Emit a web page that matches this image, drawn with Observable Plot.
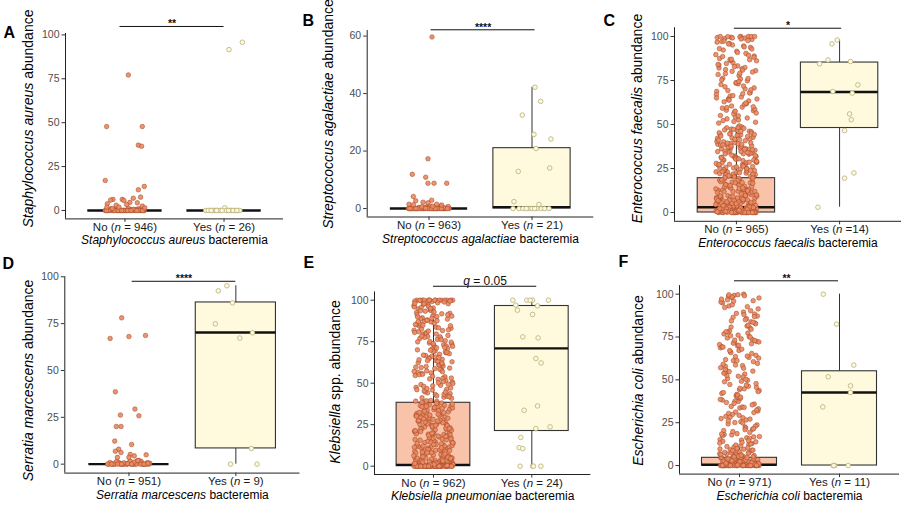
<!DOCTYPE html>
<html><head><meta charset="utf-8">
<script src="https://cdn.jsdelivr.net/npm/d3@7"></script>
<script src="https://cdn.jsdelivr.net/npm/@observablehq/plot@0.6"></script>
<style>
body{margin:0;background:#fff;}
#fig{position:relative;width:902px;height:506px;overflow:hidden;background:#fff;}
#fig svg{position:absolute;}
</style></head><body><div id="fig"></div>
<script>
// ---------------- DATA ----------------
const letters = ["A","B","C","D","E","F"];
const xTitles = ["_Staphylococcus aureus_ bacteremia","_Streptococcus agalactiae_ bacteremia","_Enterococcus faecalis_ bacteremia","_Serratia marcescens_ bacteremia","_Klebsiella pneumoniae_ bacteremia","_Escherichia coli_ bacteremia"];
const yTitles = ["_Staphylococcus aureus_ abundance","_Streptococcus agalactiae_ abundance","_Enterococcus faecalis_ abundance","_Serratia marcescens_ abundance","_Klebsiella_ spp. abundance","_Escherichia coli_ abundance"];
const noLabels = ["No (_n_ = 946)","No (_n_ = 963)","No (_n_ = 965)","No (_n_ = 951)","No (_n_ = 962)","No (_n_ = 971)"];
const yesLabels = ["Yes (_n_ = 26)","Yes (_n_ = 21)","Yes (_n_ =14)","Yes (_n_ = 9)","Yes (_n_ = 24)","Yes (_n_ = 11)"];
const sigLabels = ["**","****","*","****","_q_ = 0.05","**"];
const sigValues = [104.8, 62.2, 104.7, 97.6, 108.4, 107.8];
const sigFrom = [0.95, 1.02, 0.98, 1.03, 1.0, 0.95];
const sigTo = [2.0, 2.03, 2.02, 2.0, 2.05, 1.99];
const yTicksPct = [0, 25, 50, 75, 100];
const yTicksB = [0, 20, 40, 60];

// box stats: [q1, median, q3, whiskerLow, whiskerHigh] for No, Yes
const aBox = [[0,0,0,0,0],[0,0,0,0,0]];
const bBox = [[0,0,0,0,0],[0,0.5,21,0,42.2]];
const cBox = [[0,3,19.5,0,48.6],[48,68.5,85.2,3,98]];
const dBox = [[0,0,0,0,0],[8.4,70.3,86.3,0,95.2]];
const eBox = [[0,0.8,38.2,0,95.3],[21.2,71,96.5,0,100]];
const fBox = [[0,0.5,4.5,0,11.2],[0,42.6,55,0,100]];

// Panel A
const aNoOut = [77.2,47.8,47.8,37.2,36.6,17.1,13.7,11.8,7.6,6.3,5.9,6.3,5.7,7.0,4.4,3.8,4.6,3.0,3.4,2.5,1.9,1.9,1.5];
const aNoOutJit = [0.034,-0.185,0.175,0.135,0.168,-0.199,0.195,0.135,0.158,-0.121,-0.145,-0.027,-0.01,0.084,0.125,-0.178,0.05,-0.088,0.017,0.175,-0.182,-0.061,0.2];
const aNoLow = [0,0,0.5,0,1,0,0.3,0,0,1.2,0,0,0.6,0,0,0,0.8,0,0,0,0.2,0,0,1.4,0,0,0,0,0.4,0,0,0,0.9,0,0,0,0,0,0.1,0,0,0.7,0,0,0,1.1,0,0,0,0];
const aYes = [95.8,91.6,1.5,0,0,0,0,0,0,0,0,0,0,0,0,0,0,0,0,0,0,0,0,0,0,0];
const aYesJit = [0.185,0.05,0.007,-0.185,-0.14,-0.118,-0.1,-0.067,-0.034,0.034,0.074,0.1,0.14,-0.16,-0.05,0.12,0.06,-0.09,0.16,0.02,-0.13,0.09,-0.02,0.13,-0.075,0.045];

// Panel B
const bNoOut = [59.7,17.3,11.9,10.9,8.8,8.8,8.8,4.2,2.7,2.9,2.2,2.0,1.5,1.3,1.5,1.2,0.8];
const bNoOutJit = [0.029,-0.01,-0.162,-0.032,-0.01,0.049,0.172,-0.152,-0.129,0.026,-0.058,-0.01,-0.194,-0.152,0.074,0.123,0.036];
const bNoLow = [0,0,0.3,0,0,0.6,0,0,0,0.2,0,0,0.9,0,0,0,0.4,0,0,0,0.1,0,0.7,0,0,0,0.5,0,0,0,0,0.8,0,0,0.2,0,0,0,0.3,0,0,0,0.6,0,0,0,0,0.1,0,0];
const bYes = [42.2,37.3,32.5,25.8,24.2,20.9,12.9,14.1,2.4,1.4,0,0,0,0,0,0,0,0,0,0,0];
const bYesJit = [0.029,0.084,-0.094,0.019,0.184,0.039,-0.133,0.172,-0.175,0.068,-0.184,-0.126,-0.023,0,0.049,0.091,0.123,0.165,-0.087,-0.055,0.026];

// Panel C
const cNoHigh = [99.6,86.2,100,71.4,93.8,57.3,82.1,99.1,64.7,88.9,52.6,76.3,100,95.2,68.8,59.9,84.7,98.3,73.5,55.1,90.4,66.2,80.6,99.8,62.9,86.8,51.7,78.4,94.6,69.3,57.9,83.3,97.2,74.8,60.5,89.7,65.6,81.2,100,54.3,87.5,70.2,96.1,58.6,77.7,92.3,63.4,85.1,99.4,67.5,53.2,79.8,91.6,72.7,61.8,86.4,56.5,75.9,98.8,68.1,82.9,50.8,94.1,64.2,88.2,73.1,59.3,97.7,80.2,66.9];
const cNoHigh2 = [83.8,61.4,95.7,70.8,54.9,88.6,76.1,99.2,65.1,81.7,58.1,92.9,73.8,100,62.2,86.9,51.3,79.1,97.4,67.9,56.1,84.1,71.9,99.9,60.1,90.9,75.3,53.7,87.1,64.5,98.6,78.9,69.7,57.6,93.1,82.4,63.8,100,74.4,52.2,89.3,66.4,96.8,80.9,59.6];
const cNoMid = [48.6,23.4,37.9,31.2,44.5,27.8,35.1,21.6,41.3,29.7,46.2,25.3,38.8,33.4,22.9,42.7,30.6,36.2,24.8,47.4,28.5,34.7,20.9,39.6,32.1,45.3,26.4,37.2,23.9,43.8,30.1,35.8,21.2,40.4,27.1,48.1,33.9,25.9,38.3,22.4,44.9,29.2,36.7,24.1,41.9,31.7,26.9,47.8,34.3,20.4,39.1,28.1,43.2,32.6,23.1,37.5,25.6,45.8,30.9,22.1,40.8,27.4,35.4,49.2,24.4,33.1,21.9,42.2,29.5,38.1,26.1,46.7,31.4,23.6,36.9,28.8,44.1,34.9,20.6,39.8];
const cNoMid2 = [35.6,22.7,43.4,28.3,39.3,31.9,24.6,46.9,33.7,20.2,41.1,26.7,37.1,29.9,48.3,23.3,34.1,42.4,27.9,38.6,21.4,45.1,30.3,25.1,36.4,44.6,32.3,22.6,40.2,28.6,47.2,34.6,26.3,39.4,21.7,43.9,31.1,24.9,37.7,29.1,46.1,33.3,23.8,41.6,27.2,35.9,20.8,44.3,30.5,38.4];
const cNoLow = [0,2.1,5.6,11.3,0.4,17.8,3.2,8.7,0,14.2,1.3,6.8,19.1,0.8,4.4,12.6,0,9.5,2.7,16.3,0.2,7.1,3.9,13.4,0,1.8,10.2,5.1,18.4,0.6,2.9,8.1,15.5,0,4.8,11.9,1.1,6.3,0.3,19.6,3.5,9.1,0,13.9,2.3,7.6,0.9,16.8,4.1,0,10.7,1.6,5.9,12.1,0.1,3.1,17.2,8.4,0,2.5,14.7,6.1,0.7,9.8,4.6,0,18.9,1.4,11.1,3.7,0.5,7.3,15.1,2.2,0,5.3,12.9,0.3,9.3,1.9,16.1,4.2,0,6.6,10.4,2.8,0.6,19.4,3.3,13.1,0,7.9,1.2,5.7,11.6,0.2,17.5,2.6,8.9,0,4.9,14.4,1.5,6.9,0.4,10.9,3.6,0,18.1,2.4,12.3,5.2,0.8,8.2,15.8,1.7,0,4.3,9.7,3.0,0.1,13.6,6.5,2.0,0,11.4,7.4,0.9,16.6,3.8,5.5,0,1.0,10.1,2.6,19.8,4.7,0.5,8.6,14.9,1.4,0,6.2,12.7,3.4,0.2,7.8,17.0,2.1,0,5.0,9.4,1.1,15.3,4.0,0.7,11.8,3.2,0,6.7,13.3,0.3,2.9,8.3,18.6,1.8,0,4.5,10.6,0.6,5.8,16.9,2.3,0,7.0,12.0,1.3,3.9,0,9.0,0.4,14.0,6.0,0];
const cYes = [98,95.8,86.7,84.5,85.8,72.5,68.75,67.8,56,52.7,46.6,22.5,19.5,3];
const cYesJit = [-0.023,-0.074,-0.113,-0.194,0.106,0.177,-0.065,0.123,0.097,0.113,0.048,0.139,0.048,-0.21];

// Panel D
const dNoOut = [78.1,67.1,68.1,68.7,38.6,29.4,26.2,25.8,20.1,20.1,12.3,10.5,8.0,6.9,6.2,3.6,5.2,4.4,5.0,3.6];
const dNoOutJit = [-0.068,-0.176,0,0.155,-0.127,0.056,-0.08,0.093,-0.118,-0.074,-0.133,0.025,-0.096,-0.127,-0.074,-0.108,0.012,0.05,0.161,0];
const dNoLow = [0,0.5,0,1.2,0,0,0.3,1.8,0,0.8,0,0,1.5,0.2,0,0,1.0,0,0.6,0,2.0,0,0,0.4,1.3,0,0,0.9,0,0.1,0,1.6,0,0,0.7,0,1.1,0,0,0.3,0,1.9,0,0.5,0];
const dYes = [92.5,95.2,86.1,74.9,67.3,70.1,8.4,0,0];
const dYesJit = [-0.164,-0.084,-0.031,-0.192,0.037,0.155,0.145,-0.05,0.198];

// Panel E
const eNoHigh = [100,100,99.6,100,100,99.2,100,100,98.7,100,100,99.8,100,100,99.4,100,100,97.9,95.3,62.4,81.7,44.2,73.6,90.1,55.8,68.3,86.9,47.5,77.2,93.4,59.1,71.8,84.3,41.6,65.2,96.7,52.3,79.4,88.6,45.9,70.1,91.8,57.4,83.1,63.7,49.2,75.6,94.2,54.6,67.4,87.3,42.8,72.9,81.1,60.3,97.1,50.7,76.4,89.4,46.3,66.1,92.6,58.2,80.3,43.7,69.5,85.7,53.4,74.2,95.9,61.2,48.1,78.8,90.7,56.6,64.4,88.1,40.9,71.3,82.6,51.6,93.9,59.7,77.9,44.8,67.8,86.2,55.1,73.1,96.2,49.8,63.1,84.9,42.1,70.6,91.2,57.9,79.9,47.1,65.8,88.9,53.9,75.1,98.1,60.8,45.4,82.2,69.1,94.8,52.8,78.1,62.9,87.6,41.2,72.4,56.2,85.2,48.7,66.7,92.1,58.8,76.9,43.3,64.9,81.9,50.2,97.5,70.9,54.1,89.9,61.7,46.8,74.7,83.7,59.4,68.9,95.1];
const eNoHigh2 = [99.5,100,100,98.9,100,57.1,83.4,66.9,91.3,48.4,74.9,62.1,87.9,53.1,79.6,95.6,44.6,69.9,85.4,58.4,77.6,41.9,92.9,64.1,50.9,81.4,72.2,98.4,55.4,68.6,89.1,46.1,76.2,60.1,84.6,43.1,93.6,71.6,52.6,80.6,65.4,97.8,49.4,73.9,87.1,56.9,63.6,90.4,42.4,78.4];
const eNoLow = [0,0,23.6,5.2,34.1,0.4,12.8,28.3,1.9,38.2,8.6,0,18.4,31.7,3.3,25.9,0.8,14.6,36.5,6.9,0,21.1,2.6,33.2,10.4,0.2,27.1,16.3,0,4.4,39.1,22.7,1.2,11.5,30.4,0,7.7,19.8,35.3,2.9,0.5,26.4,13.9,0,37.6,5.8,24.2,0.1,9.3,32.5,17.1,0,3.7,29.6,1.5,20.6,0,38.8,6.2,15.4,0.6,27.8,10.9,0,34.6,2.2,22.1,8.1,0.3,31.1,4.9,18.9,0,25.2,12.1,36.9,1.1,0,7.2,28.9,16.8,3.1,0.7,33.8,21.6,0,11.2,5.5,39.6,0.2,26.8,14.2,2.4,0,30.9,9.8,19.3,0.9,35.7,6.6,0,24.7,1.6,13.4,37.1,4.1,0,22.4,0.4,29.1,8.9,17.6,0,32.8,2.7,11.8,0.1,25.5,5.1,0,38.4,15.9,1.3,20.2,0,7.5,34.4,3.6,27.3,0.6,10.2,0,18.1,30.2,2.1,23.3,0.3,6.4,0,36.2,13.1,1.8,26.1,0,4.6,31.6,9.1,0.8,19.7,0,2.8,15.1,35.1,0.5,8.4,24.9,0,12.5,3.9,29.7,0.2,21.9,0,6.1,17.3,1.4,33.5,0,10.6,28.2,0.7,4.2,0,14.8,37.9,2.3,22.9,0,7.9,0.4,26.6,11.6,0,3.4,32.2,18.6,0.9,0,5.7,24.4,1.7,13.7,0,39.4,0.1,9.6,20.9,0,2.5,16.1,30.6,0.6,0,6.8,27.5,3.2,0,12.4,1.0,35.9,0,8.2,19.5,0.3,0];
const eNoLow2 = [0,14.4,3.5,27.6,0.2,9.4,35.4,1.8,19.1,0,6.3,31.4,12.2,0.5,24.1,4.8,38.1,0,16.6,2.1,29.4,8.8,0.9,21.4,0,33.1,5.9,13.1,0.3,26.2,10.1,37.4,1.4,0,18.2,4.3,30.1,7.1,0.6,23.1,0,15.7,36.6,2.6,11.4,0,28.6,5.4,20.1,0.1,34.9,8.1,0,25.3,3.1,17.9,0.8,39.2,9.9,0,22.6,1.1,32.4,6.7,0,14.1,27.2,2.4,0.4,19.9,0,11.1,36.1,4.6,24.6,0,7.4,30.8,1.6,0];
const eYes = [100,100,100,100,97,96.6,94,91.4,77.9,77.3,64.9,62.2,36.3,33.7,22.7,23.7,17.3,11.2,10.6,0,0,0,100,0];
const eYesJit = [-0.193,-0.051,0.007,0.169,-0.163,0.058,-0.146,0.007,-0.092,0.064,0.041,0.095,0.058,-0.078,0.041,0.186,-0.112,-0.129,-0.092,-0.119,0.007,0.092,-0.017,0.017];

// Panel F
const fNoHigh = [99.3,97.8,100,98.6,96.2,99.7,94.9,92.7,98.1,72.4,14.8,55.6,83.9,31.2,68.7,22.5,47.3,88.4,39.6,76.8,12.3,61.2,91.4,27.9,50.8,73.5,18.6,42.1,85.7,34.5,64.3,11.4,57.9,80.2,25.1,70.6,44.8,93.1,16.7,37.4,59.1,77.3,29.8,87.2,13.5,52.6,71.1,40.7,95.4,21.8,66.4,83.1,33.6,48.9,75.2,10.8,62.7,89.6,24.3,55.1,69.8,38.2,81.4,17.9,45.6,73.9,28.7,90.3,63.6,15.2,53.4,78.6,35.9,67.2,20.4,46.2,86.5,31.8,58.3,74.4,12.9,41.5,97.1,26.6,65.9,82.7,39.1,54.2,19.3,71.9,43.7,88.1,30.4,60.6,76.1,14.1,49.7,93.8,23.7,67.9,36.8,79.5,11.9,57.1,85.1,28.2,72.9,44.3,18.1,63.1,95.9,33.1,51.7,77.8,21.2,40.1,69.3,16.2,84.4,47.8,25.6,61.8,74.9,37.7,13.1,99.1,54.8,30.9,70.2,42.6,81.9,19.8,59.6,34.2,11.1,65.4,88.8,27.4,50.3,75.7,22.9,45.1,92.2,15.8,36.3,72.1,56.8,26.1,83.6,41.1,17.4,63.9,98.4,32.4,49.2,78.1,12.6,58.7,38.6,20.9,67.1,86.9,29.3,53.9,14.5,71.4,43.2,24.8,96.7,35.4,61.3,18.4,46.9,80.8,13.8,39.9,55.9,27.1,73.2,16.9,33.9,99.6,21.5,52.1,69.1,10.3];
const fNoLow = [0,2.3,0.4,6.8,0,1.1,4.5,0,9.2,0.7,3.1,0,7.6,1.8,0.2,5.3,0,2.9,8.4,0,0.9,4.1,0,6.2,1.4,0,3.7,9.7,0.3,0,5.8,2.1,0,7.1,0.6,3.4,0,1.6,8.9,0,4.8,0.1,2.6,0,6.5,0,1.2,3.9,0,9.5,0.5,5.1,0,2.4,0,7.9,0.8,3.2,0,1.9,6.1,0,4.3,0.2,0,8.1,2.7,0,5.6,1.3,0,3.6,0.6,9.9,0,2.0,7.3,0,4.7,0.4,1.5,0,6.9,3.0,0,0.9,5.4,0,2.5,8.7,0.1,0,4.0,1.7,0,6.4,3.3,0,0.7,2.2,7.7,0,5.0,1.0,0,3.8,9.0,0.3,0,4.6,2.8,0,6.0,1.4,0];
const fYes = [100,82.5,58.6,51.8,46.5,42.6,34.2,0,0,0,0];
const fYesJit = [-0.163,-0.03,0.143,-0.113,0.11,0.11,-0.167,-0.063,-0.047,0.087,-0.057];

// ---------------- LAYOUT (positions / sizes, not data) ----------------
const layout = [
  {left:0,   top:0,   w:300, h:253, mL:65,   mR:17,  mT:33,   mB:34.6, dom:[-4.8,100.8], ticks:yTicksPct, letter:[3,37],  yt:[28.3,118.5]},
  {left:300, top:0,   w:300, h:253, mL:66.7, mR:6.7, mT:30,   mB:36.5, dom:[-2.95,61.95], ticks:yTicksB,  letter:[2,25],  yt:[28.3,114]},
  {left:600, top:0,   w:302, h:253, mL:74,   mR:1,   mT:27.2, mB:32.2, dom:[-5,105],     ticks:yTicksPct, letter:[3,25],  yt:[36.7,118.5]},
  {left:0,   top:253, w:300, h:253, mL:64.3, mR:0.5, mT:23.1, mB:33.4, dom:[-4.77,100.1], ticks:yTicksPct, letter:[2,15], yt:[28.3,127.5]},
  {left:300, top:253, w:300, h:253, mL:74,   mR:9.7, mT:38.4, mB:32,   dom:[-5,105],     ticks:yTicksPct, letter:[3,14],  yt:[35,129]},
  {left:600, top:253, w:302, h:253, mL:79,   mR:3,   mT:32.1, mB:32.4, dom:[-5,105],     ticks:yTicksPct, letter:[18,13], yt:[38.3,127.5]}
];

const FONT = "'Liberation Sans', Arial, Helvetica, sans-serif";
const NO_FILL = "#EC8A62", NO_STROKE = "#9C4424", NO_BOX = "#F8C3A9";
const YES_FILL = "#FDF9DD", YES_STROKE = "#B7B078", YES_BOX = "#FFF9DE";

// deterministic (non-random) jitter spread for dense groups
const spread = i => ((((i * 0.6180339887 + 0.37) % 1) - 0.5) * 0.4);

const panelData = [
  {box:aBox, out:aNoOut, outJit:aNoOutJit, rest:aNoLow, yes:aYes, yesJit:aYesJit},
  {box:bBox, out:bNoOut, outJit:bNoOutJit, rest:bNoLow, yes:bYes, yesJit:bYesJit},
  {box:cBox, out:[], outJit:[], rest:[...cNoHigh, ...cNoMid, ...cNoHigh2, ...cNoMid2, ...cNoLow], yes:cYes, yesJit:cYesJit},
  {box:dBox, out:dNoOut, outJit:dNoOutJit, rest:dNoLow, yes:dYes, yesJit:dYesJit},
  {box:eBox, out:[], outJit:[], rest:[...eNoHigh, ...eNoLow, ...eNoHigh2, ...eNoLow2], yes:eYes, yesJit:eYesJit},
  {box:fBox, out:[], outJit:[], rest:[...fNoHigh, ...fNoLow], yes:fYes, yesJit:fYesJit}
];

function fillMarkup(t, s) {
  s.split("_").forEach((part, k) => {
    if (!part) return;
    const ts = document.createElementNS("http://www.w3.org/2000/svg", "tspan");
    ts.textContent = part;
    if (k % 2 === 1) ts.setAttribute("font-style", "italic");
    t.appendChild(ts);
  });
}
function italicize(svg) {
  svg.querySelectorAll("text").forEach(t => {
    const s = t.textContent;
    if (!s.includes("_")) return;
    t.textContent = "";
    fillMarkup(t, s);
  });
}

const fig = document.getElementById("fig");
layout.forEach((L, p) => {
  const D = panelData[p];
  const [lo, hi] = L.dom;
  const boxes = D.box.map((b, i) => ({cat: i + 1, q1: b[0], med: b[1], q3: b[2], lo: b[3], hi: b[4]}));
  const noPts = [
    ...D.rest.map((v, i) => ({x: 1 + spread(i), y: v})),
    ...D.out.map((v, i) => ({x: 1 + D.outJit[i], y: v}))
  ];
  const yesPts = D.yes.map((v, i) => ({x: 2 + D.yesJit[i], y: v}));
  const sigMid = (sigFrom[p] + sigTo[p]) / 2;
  const isQ = sigLabels[p].includes("_");

  const svg = Plot.plot({
    width: L.w, height: L.h,
    marginLeft: L.mL, marginRight: L.mR, marginTop: L.mT, marginBottom: L.mB,
    x: {type: "linear", domain: [0.4, 2.6], axis: null},
    y: {type: "linear", domain: [lo, hi], axis: null},
    style: {fontFamily: FONT, background: "transparent", overflow: "visible"},
    marks: [
      Plot.ruleX(boxes, {x: "cat", y1: "q3", y2: "hi", stroke: "#333", strokeWidth: 1}),
      Plot.ruleX(boxes, {x: "cat", y1: "lo", y2: "q1", stroke: "#333", strokeWidth: 1}),
      Plot.rect(boxes.filter(d => d.cat === 1), {x1: d => d.cat - 0.375, x2: d => d.cat + 0.375, y1: "q1", y2: "q3", fill: NO_BOX, stroke: "#333", strokeWidth: 1.1}),
      Plot.rect(boxes.filter(d => d.cat === 2), {x1: d => d.cat - 0.375, x2: d => d.cat + 0.375, y1: "q1", y2: "q3", fill: YES_BOX, stroke: "#333", strokeWidth: 1.1}),
      Plot.ruleY(boxes, {y: "med", x1: d => d.cat - 0.375, x2: d => d.cat + 0.375, stroke: "#111", strokeWidth: 2.4}),
      Plot.dot(noPts, {x: "x", y: "y", r: 2.3, fill: NO_FILL, fillOpacity: 0.92, stroke: NO_STROKE, strokeWidth: 0.5}),
      Plot.dot(yesPts, {x: "x", y: "y", r: 2.3, fill: YES_FILL, stroke: YES_STROKE, strokeWidth: 0.8}),
      Plot.ruleX([0.4], {y1: lo, y2: hi, stroke: "#222", strokeWidth: 1}),
      Plot.ruleY([lo], {x1: 0.4, x2: 2.6, stroke: "#222", strokeWidth: 1}),
      Plot.ruleY(L.ticks, {y: d => d, x1: 0.4, x2: 0.4, insetLeft: -3.5, stroke: "#333", strokeWidth: 1}),
      Plot.text(L.ticks, {y: d => d, text: d => String(d), frameAnchor: "left", dx: -6, textAnchor: "end", fontSize: 10.5, fill: "#4d4d4d"}),
      Plot.ruleX([1, 2], {x: d => d, y1: lo, y2: lo, insetBottom: -3.5, stroke: "#333", strokeWidth: 1}),
      Plot.text([1, 2], {x: d => d, text: d => d === 1 ? noLabels[p] : yesLabels[p], frameAnchor: "bottom", dy: 12, fontSize: 11.5, fill: "#1a1a1a"}),
      Plot.text([xTitles[p]], {text: d => d, frameAnchor: "bottom", dy: 25.5, fontSize: 12, fill: "#000"}),
      Plot.text([letters[p]], {text: d => d, frameAnchor: "top-left", dx: L.letter[0] - L.mL, dy: L.letter[1] - L.mT, textAnchor: "start", lineAnchor: "bottom", fontSize: 16, fontWeight: "bold", fill: "#000"}),
      Plot.ruleY([sigValues[p]], {y: d => d, x1: sigFrom[p], x2: sigTo[p], stroke: "#111", strokeWidth: 1}),
      Plot.text([sigLabels[p]], {text: d => d, x: () => sigMid, y: () => sigValues[p], lineAnchor: "bottom", dy: isQ ? -1.5 : 1, fontSize: isQ ? 12 : 10.5, fontWeight: isQ ? "normal" : "bold", fill: "#111"})
    ]
  });
  italicize(svg);
  // rotated y-axis title (axis label text)
  const yt = document.createElementNS("http://www.w3.org/2000/svg", "text");
  yt.setAttribute("transform", `translate(${L.yt[0]},${L.yt[1]}) rotate(-90)`);
  yt.setAttribute("text-anchor", "middle");
  yt.setAttribute("dy", "0.35em");
  yt.setAttribute("font-size", "14");
  yt.setAttribute("font-family", FONT);
  yt.setAttribute("fill", "#000");
  fillMarkup(yt, yTitles[p]);
  svg.appendChild(yt);
  svg.style.position = "absolute";
  svg.style.left = L.left + "px";
  svg.style.top = L.top + "px";
  fig.appendChild(svg);
});
</script>
</body></html>
